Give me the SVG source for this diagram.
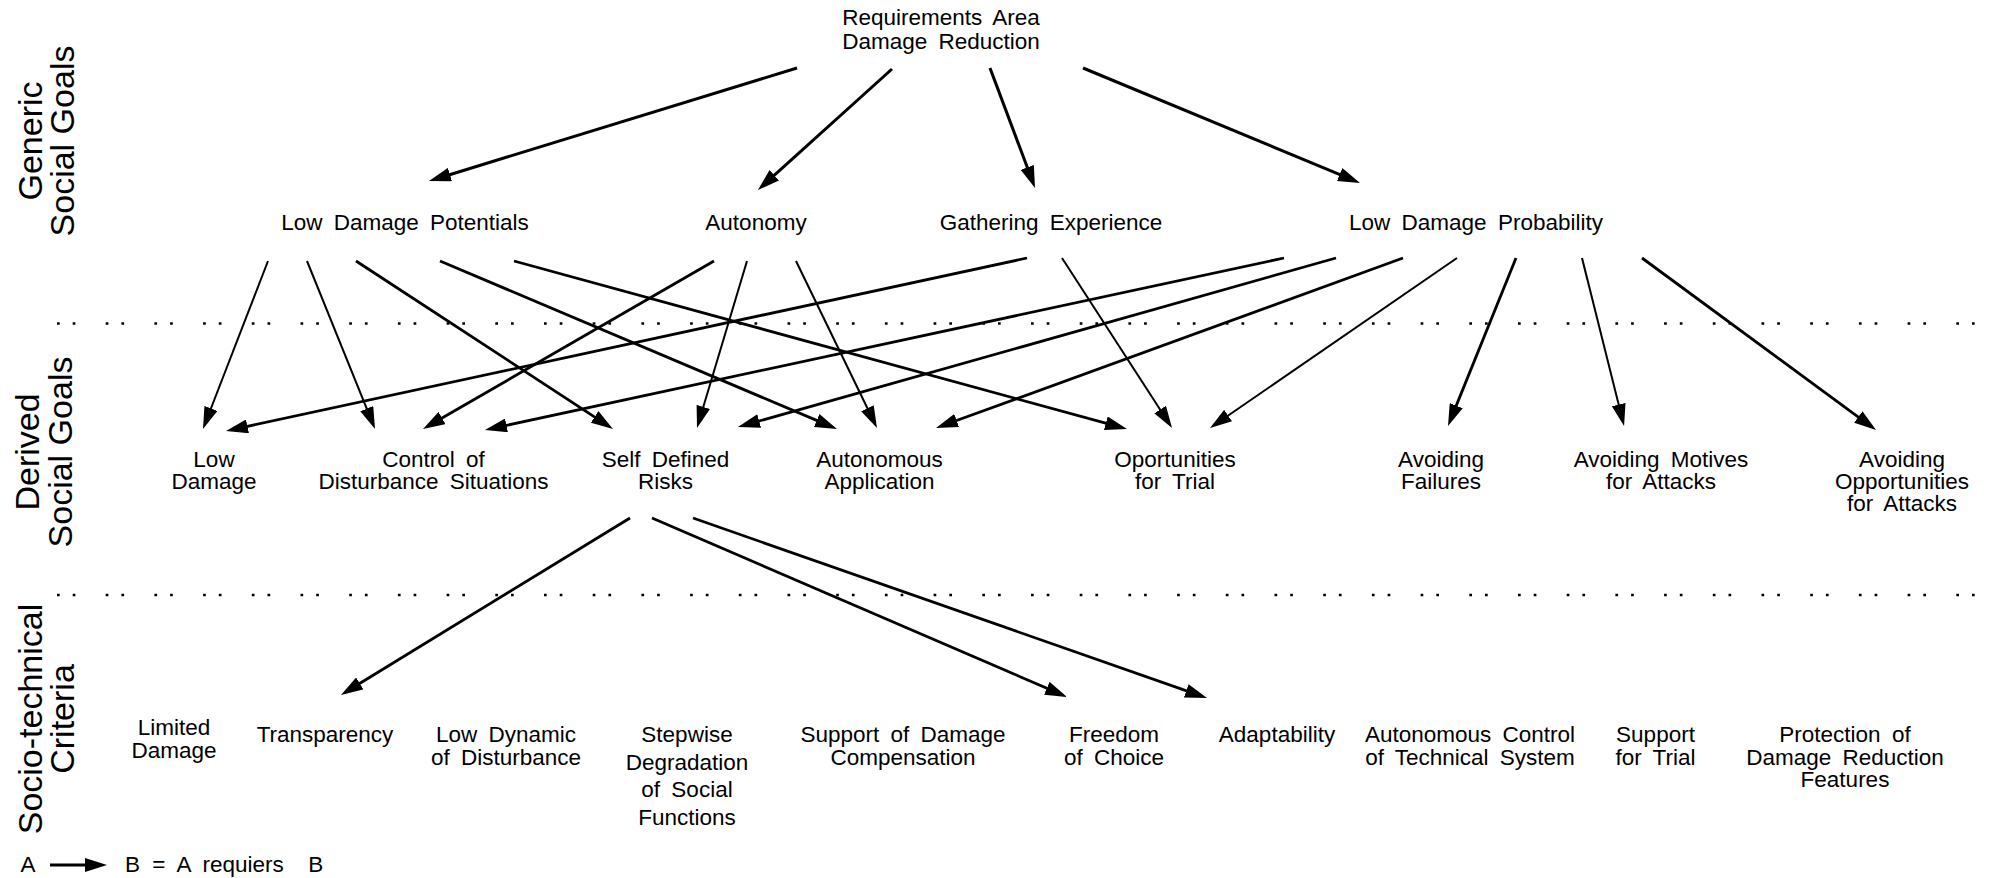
<svg xmlns="http://www.w3.org/2000/svg" width="1999" height="878" viewBox="0 0 1999 878">
<style>
text{font-family:"Liberation Sans",Arial,sans-serif;fill:#000}
.n{font-size:22.5px;word-spacing:5px;text-anchor:middle}
.v{font-size:34px;text-anchor:middle}
.c{stroke:#000;stroke-width:2.8;fill:none;marker-end:url(#ah)}
.t{stroke:#000;stroke-width:2;fill:none;marker-end:url(#ah)}
.k{stroke:#000;stroke-width:3;fill:none;marker-end:url(#ah)}
.dot{stroke:#000;stroke-width:2.7;stroke-dasharray:2.7 13 2.7 30.3;fill:none}
</style>
<defs>
<marker id="ah" markerUnits="userSpaceOnUse" markerWidth="22" markerHeight="14" refX="14" refY="7" orient="auto">
<path d="M0,0 L22,7 L0,14 Z" fill="#000"/>
</marker>
</defs>
<rect width="1999" height="878" fill="#fff"/>

<g id="separators">
<line class="dot" x1="57" y1="323.5" x2="1999" y2="323.5"/>
<line class="dot" x1="57" y1="595" x2="1999" y2="595"/>
</g>

<g id="row-labels">
<g id="lbl-generic"><text class="v" transform="translate(41.5,141) rotate(-90)">Generic</text><text class="v" transform="translate(73.5,141) rotate(-90)">Social Goals</text></g>
<g id="lbl-derived"><text class="v" transform="translate(39,452) rotate(-90)">Derived</text><text class="v" transform="translate(72,452) rotate(-90)">Social Goals</text></g>
<g id="lbl-socio"><text class="v" transform="translate(41.5,719) rotate(-90)">Socio-technical</text><text class="v" transform="translate(74,719) rotate(-90)">Criteria</text></g>
</g>

<g id="connectors">
<line class="k" x1="797" y1="68" x2="436.6" y2="178.7"/>
<line class="k" x1="892" y1="69" x2="763.9" y2="184.6"/>
<line class="k" x1="990" y1="68" x2="1032.2" y2="180.5"/>
<line class="k" x1="1083" y1="68" x2="1352.6" y2="179.9"/>

<line class="t" x1="268" y1="261" x2="205.9" y2="421.5"/>
<line class="t" x1="307" y1="261" x2="372" y2="421.6"/>
<line class="c" x1="356" y1="261" x2="606.3" y2="424.6"/>
<line class="c" x1="440" y1="261" x2="829.6" y2="425.9"/>
<line class="c" x1="514" y1="261" x2="1119.3" y2="426.9"/>
<line class="c" x1="714" y1="261" x2="429.9" y2="425"/>
<line class="t" x1="747" y1="261" x2="699.3" y2="420.3"/>
<line class="t" x1="796" y1="261" x2="873.5" y2="420.8"/>
<line class="c" x1="1027" y1="258" x2="233.8" y2="429.3"/>
<line class="t" x1="1062" y1="258" x2="1167.7" y2="421.3"/>
<line class="c" x1="1284" y1="258" x2="492.8" y2="428.3"/>
<line class="c" x1="1336" y1="258" x2="745.7" y2="424.8"/>
<line class="c" x1="1403" y1="258" x2="943.5" y2="425.3"/>
<line class="t" x1="1457" y1="258" x2="1216.6" y2="423.5"/>
<line class="c" x1="1516" y1="258" x2="1451" y2="418.6"/>
<line class="t" x1="1582" y1="258" x2="1622.1" y2="418.2"/>
<line class="c" x1="1642" y1="258" x2="1869.6" y2="425.3"/>

<line class="c" x1="630" y1="518" x2="347.8" y2="690.8"/>
<line class="c" x1="652" y1="518" x2="1059.7" y2="693.8"/>
<line class="c" x1="693" y1="518" x2="1199.5" y2="695.4"/>
</g>

<g id="n-root"><text class="n" x="941" y="25">Requirements Area</text><text class="n" x="941" y="48.5">Damage Reduction</text></g>

<g id="n-low-damage-potentials"><text class="n" x="405" y="230">Low Damage Potentials</text></g>
<g id="n-autonomy"><text class="n" x="756" y="230">Autonomy</text></g>
<g id="n-gathering-experience"><text class="n" x="1051" y="230">Gathering Experience</text></g>
<g id="n-low-damage-probability"><text class="n" x="1476" y="230">Low Damage Probability</text></g>

<g id="n-low-damage"><text class="n" x="214" y="466.5">Low</text><text class="n" x="214" y="488.5">Damage</text></g>
<g id="n-control"><text class="n" x="433.5" y="466.5">Control of</text><text class="n" x="433.5" y="488.5">Disturbance Situations</text></g>
<g id="n-self-defined"><text class="n" x="665.5" y="466.5">Self Defined</text><text class="n" x="665.5" y="488.5">Risks</text></g>
<g id="n-autonomous-app"><text class="n" x="879.5" y="466.5">Autonomous</text><text class="n" x="879.5" y="488.5">Application</text></g>
<g id="n-oportunities"><text class="n" x="1175" y="466.5">Oportunities</text><text class="n" x="1175" y="488.5">for Trial</text></g>
<g id="n-avoid-failures"><text class="n" x="1441" y="466.5">Avoiding</text><text class="n" x="1441" y="488.5">Failures</text></g>
<g id="n-avoid-motives"><text class="n" x="1661" y="466.5">Avoiding Motives</text><text class="n" x="1661" y="488.5">for Attacks</text></g>
<g id="n-avoid-opp"><text class="n" x="1902" y="466.5">Avoiding</text><text class="n" x="1902" y="488.5">Opportunities</text><text class="n" x="1902" y="510.5">for Attacks</text></g>

<g id="n-limited-damage"><text class="n" x="174" y="735">Limited</text><text class="n" x="174" y="757.5">Damage</text></g>
<g id="n-transparency"><text class="n" x="325" y="742">Transparency</text></g>
<g id="n-low-dynamic"><text class="n" x="506" y="742">Low Dynamic</text><text class="n" x="506" y="764.5">of Disturbance</text></g>
<g id="n-stepwise"><text class="n" x="687" y="742">Stepwise</text><text class="n" x="687" y="769.5">Degradation</text><text class="n" x="687" y="797">of Social</text><text class="n" x="687" y="824.5">Functions</text></g>
<g id="n-support-damage"><text class="n" x="903" y="742">Support of Damage</text><text class="n" x="903" y="764.5">Compensation</text></g>
<g id="n-freedom"><text class="n" x="1114" y="742">Freedom</text><text class="n" x="1114" y="764.5">of Choice</text></g>
<g id="n-adaptability"><text class="n" x="1277" y="742">Adaptability</text></g>
<g id="n-autonomous-control"><text class="n" x="1470" y="742">Autonomous Control</text><text class="n" x="1470" y="764.5">of Technical System</text></g>
<g id="n-support-trial"><text class="n" x="1655.5" y="742">Support</text><text class="n" x="1655.5" y="764.5">for Trial</text></g>
<g id="n-protection"><text class="n" x="1845" y="742">Protection of</text><text class="n" x="1845" y="764.5">Damage Reduction</text><text class="n" x="1845" y="787">Features</text></g>

<g id="legend">
<text class="n" x="28" y="872">A</text>
<line class="k" x1="50" y1="865" x2="99" y2="865"/>
<text x="125" y="872" style="font-size:22.5px;word-spacing:6px;white-space:pre">B = A requiers  B</text>
</g>
</svg>
